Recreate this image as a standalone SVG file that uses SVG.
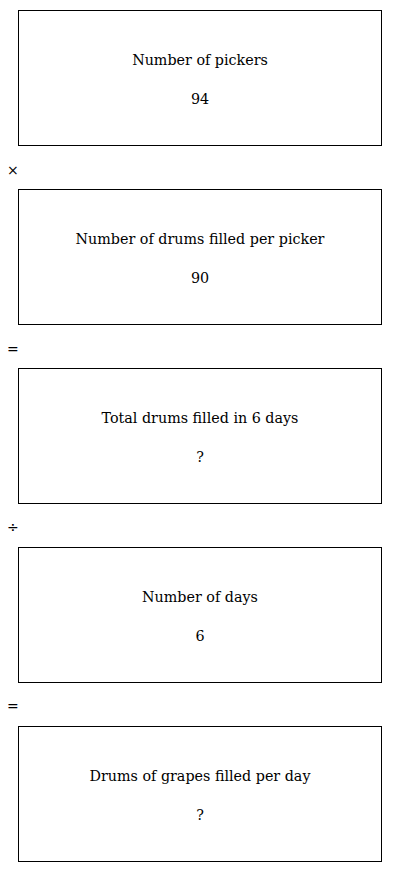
<svg xmlns="http://www.w3.org/2000/svg" width="400" height="872" viewBox="0 0 400 872">
<style>
.box{fill:#fff;stroke:#000;stroke-width:1}
.t{font-family:"DejaVu Serif",serif;font-size:14.3px;fill:#000;text-anchor:middle}
.op{font-family:"DejaVu Sans",sans-serif;font-size:14px;fill:#000}
</style>
<rect width="400" height="872" fill="#fff"/>
<g id="n1"><rect class="box" x="18.5" y="10.5" width="363" height="135"/><text class="t" x="200" y="65">Number of pickers</text><text class="t" x="200" y="104">94</text></g>
<g id="n2"><rect class="box" x="18.5" y="189.5" width="363" height="135"/><text class="t" x="200" y="244">Number of drums filled per picker</text><text class="t" x="200" y="283">90</text></g>
<g id="n3"><rect class="box" x="18.5" y="368.5" width="363" height="135"/><text class="t" x="200" y="423">Total drums filled in 6 days</text><text class="t" x="200" y="462">?</text></g>
<g id="n4"><rect class="box" x="18.5" y="547.5" width="363" height="135"/><text class="t" x="200" y="602">Number of days</text><text class="t" x="200" y="641">6</text></g>
<g id="n5"><rect class="box" x="18.5" y="726.5" width="363" height="135"/><text class="t" x="200" y="781">Drums of grapes filled per day</text><text class="t" x="200" y="820">?</text></g>
<g id="connectors">
<text class="op" x="7" y="175">×</text>
<text class="op" x="7" y="354">=</text>
<text class="op" x="7" y="532">÷</text>
<text class="op" x="7" y="711">=</text>
</g>
</svg>
